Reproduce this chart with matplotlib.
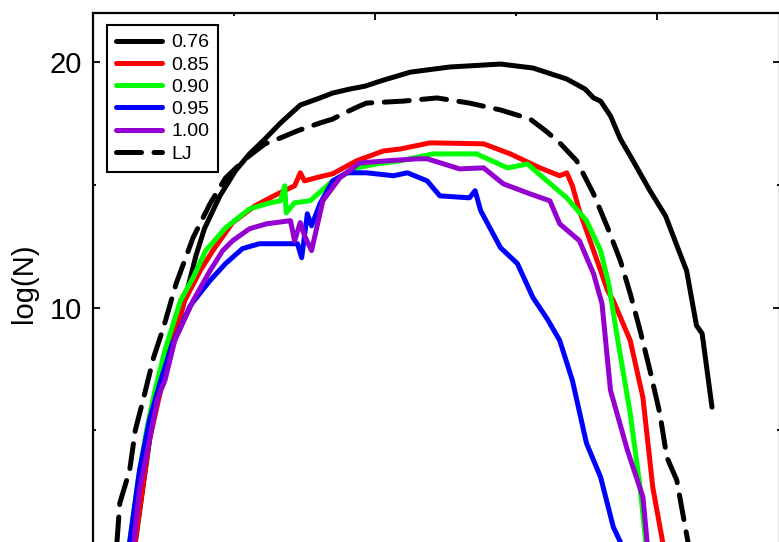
import matplotlib.pyplot as plt
from matplotlib.ticker import MultipleLocator, FixedLocator

plt.rcParams['font.family'] = ['Liberation Sans', 'DejaVu Sans']

# curves: x in tick units, y = log(N)
x076 = [0.30, 0.44, 0.52, 0.61, 0.68, 0.73, 0.79, 0.90, 1.01, 1.11, 1.22, 1.33, 1.47, 1.61, 1.70, 1.82,
        1.93, 2.04, 2.25, 2.53, 2.89, 3.12, 3.36, 3.49, 3.55, 3.60, 3.67, 3.74, 3.83, 3.95, 4.06, 4.16,
        4.21, 4.28, 4.32, 4.39]
y076 = [0.45, 6.22, 7.85, 9.47, 10.98, 12.11, 13.21, 14.55, 15.57, 16.26, 16.87, 17.52, 18.25, 18.54,
        18.74, 18.90, 19.02, 19.23, 19.59, 19.80, 19.92, 19.76, 19.31, 18.90, 18.54, 18.41, 17.81, 16.87,
        15.98, 14.76, 13.74, 12.24, 11.50, 9.27, 8.94, 5.94]

x085 = [0.30, 0.35, 0.40, 0.48, 0.55, 0.65, 0.76, 0.85, 0.99, 1.15, 1.31, 1.43, 1.47, 1.50, 1.61, 1.70,
        1.87, 2.06, 2.18, 2.39, 2.77, 2.96, 3.17, 3.31, 3.36, 3.40, 3.45, 3.55, 3.65, 3.69, 3.81, 3.90,
        3.97, 4.04]
y085 = [0.45, 2.56, 4.59, 6.63, 8.25, 10.28, 11.50, 12.32, 13.46, 14.15, 14.63, 14.96, 15.49, 15.16,
        15.33, 15.45, 15.98, 16.38, 16.46, 16.71, 16.67, 16.26, 15.69, 15.37, 15.49, 14.96, 13.94, 12.32,
        10.69, 10.28, 8.66, 6.34, 2.68, 0.45]

x090 = [0.26, 0.32, 0.38, 0.44, 0.51, 0.62, 0.71, 0.80, 0.94, 1.11, 1.26, 1.33, 1.36, 1.37, 1.43, 1.54,
        1.70, 1.87, 2.01, 2.18, 2.41, 2.72, 2.94, 3.08, 3.22, 3.36, 3.50, 3.60, 3.66, 3.71, 3.81, 3.88, 3.92]
y090 = [0.45, 2.97, 5.00, 6.63, 8.25, 10.28, 11.22, 12.32, 13.25, 14.02, 14.27, 14.35, 14.96, 13.86,
        14.27, 14.35, 15.16, 15.69, 15.85, 15.98, 16.26, 16.26, 15.69, 15.85, 15.16, 14.47, 13.54, 12.32,
        10.90, 9.07, 5.69, 2.68, 0.45]

x095 = [0.26, 0.33, 0.40, 0.48, 0.56, 0.69, 0.83, 0.94, 1.06, 1.18, 1.45, 1.48, 1.50, 1.52, 1.55, 1.61,
        1.70, 1.80, 1.94, 2.13, 2.23, 2.37, 2.46, 2.67, 2.71, 2.75, 2.89, 3.01, 3.12, 3.22, 3.31, 3.40,
        3.50, 3.60, 3.69, 3.74]
y095 = [0.45, 3.37, 5.41, 7.03, 8.46, 10.08, 11.10, 11.79, 12.40, 12.60, 12.60, 12.03, 12.93, 13.82,
        13.33, 14.23, 15.16, 15.49, 15.49, 15.37, 15.49, 15.16, 14.55, 14.47, 14.76, 13.94, 12.44, 11.79,
        10.41, 9.55, 8.66, 7.03, 4.47, 3.09, 1.06, 0.45]

x100 = [0.29, 0.33, 0.40, 0.46, 0.51, 0.58, 0.71, 0.83, 0.92, 0.99, 1.11, 1.23, 1.40, 1.43, 1.47, 1.50,
        1.55, 1.59, 1.63, 1.75, 1.89, 2.09, 2.30, 2.37, 2.60, 2.77, 2.91, 3.10, 3.24, 3.31, 3.45, 3.55,
        3.61, 3.67, 3.79, 3.90, 3.93]
y100 = [0.45, 2.56, 4.59, 6.34, 7.03, 8.66, 10.28, 11.50, 12.32, 12.72, 13.21, 13.41, 13.54, 12.72,
        13.46, 12.93, 12.32, 13.33, 14.35, 15.28, 15.89, 15.98, 16.06, 16.06, 15.65, 15.69, 15.04, 14.63,
        14.35, 13.41, 12.72, 11.38, 10.16, 6.63, 4.19, 2.28, 0.45]

xLJ = [0.17, 0.19, 0.26, 0.30, 0.36, 0.43, 0.50, 0.59, 0.71, 0.83, 0.94, 1.09, 1.22, 1.33, 1.45, 1.61,
       1.70, 1.77, 1.89, 1.94, 2.20, 2.44, 2.67, 2.89, 3.10, 3.21, 3.31, 3.43, 3.55, 3.65, 3.74, 3.81,
       3.88, 3.95, 4.02, 4.07, 4.14, 4.20, 4.22]
yLJ = [0.45, 2.03, 3.37, 5.00, 6.34, 7.97, 9.19, 10.98, 12.85, 14.23, 15.28, 16.10, 16.67, 16.91, 17.20,
       17.52, 17.68, 17.89, 18.21, 18.33, 18.41, 18.54, 18.33, 18.05, 17.68, 17.20, 16.71, 15.98, 14.63,
       13.25, 11.91, 10.57, 9.07, 7.44, 5.69, 3.90, 2.97, 1.06, 0.45]

fig = plt.figure(figsize=(7.79, 5.42), dpi=100)
ax = fig.add_axes([93 / 779, -11 / 542, 687 / 779, 540 / 542])

lw = 3.6
kw = dict(lw=lw, solid_capstyle='round', solid_joinstyle='round')
ax.plot(x076, y076, color='black', label='0.76', **kw)
ax.plot(x085, y085, color='#ff0000', label='0.85', **kw)
ax.plot(x090, y090, color='#00ff00', label='0.90', **kw)
ax.plot(x095, y095, color='#0000ff', label='0.95', **kw)
ax.plot(x100, y100, color='#9400d0', label='1.00', **kw)
ax.plot(xLJ, yLJ, color='black', lw=lw, linestyle=(0, (5, 2.5)), dash_capstyle='round',
        dash_joinstyle='round', label='LJ')

ax.set_xlim(0, 687 / 141)
ax.set_ylim(0, 22)
ax.xaxis.set_major_locator(MultipleLocator(2))
ax.xaxis.set_minor_locator(MultipleLocator(1))
ax.yaxis.set_major_locator(FixedLocator([10, 20]))
ax.yaxis.set_minor_locator(FixedLocator([5, 15]))
ax.tick_params(which='both', direction='in', top=True, right=True, width=1.3,
               labelbottom=False, labelsize=21, pad=8)
ax.tick_params(which='major', length=5)
ax.tick_params(which='minor', length=2.5)
for s in ax.spines.values():
    s.set_linewidth(1.6)

ax.set_ylabel('log(N)', fontsize=21, labelpad=8)

leg = ax.legend(loc='upper left', bbox_to_anchor=(14 / 687, 528 / 540), borderaxespad=0,
                fontsize=14, fancybox=False, framealpha=1, edgecolor='black',
                handlelength=2.4, handletextpad=0.45, borderpad=0.45, labelspacing=0.24)
leg.get_frame().set_linewidth(1.5)

fig.savefig('out.png', dpi=100)
